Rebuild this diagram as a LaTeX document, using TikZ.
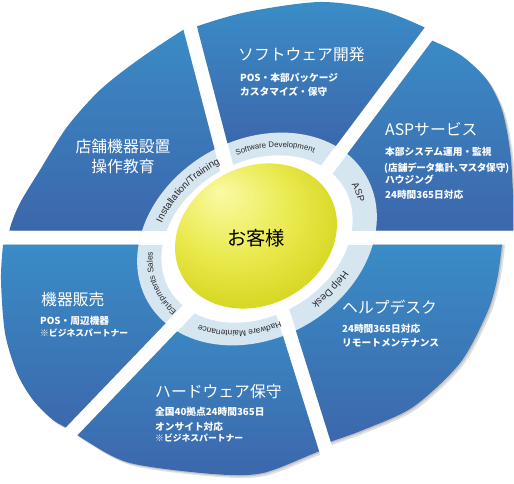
\documentclass[tikz,border=0pt]{standalone}
\usepackage{fontspec}
\newfontfamily\jpfont{Noto Sans CJK JP}
\newfontfamily\jppfont[RawFeature=+palt]{Noto Sans CJK JP}
\newfontfamily\latfont{Liberation Sans}
\usetikzlibrary{calc,decorations.text}
\definecolor{secT}{RGB}{58,141,199}
\definecolor{secB}{RGB}{60,102,171}
\definecolor{bandc}{RGB}{214,230,241}
\definecolor{ylA}{RGB}{250,250,165}
\definecolor{ylB}{RGB}{234,234,80}
\definecolor{ylC}{RGB}{203,203,8}
\definecolor{lbl}{RGB}{40,40,40}
\pgfdeclareradialshading{yelsh}{\pgfpoint{-10bp}{16bp}}{color(0bp)=(ylA); color(16bp)=(ylB); color(36bp)=(ylC); color(50bp)=(ylC)}
\newcommand\gapcoords[3]{%
  \coordinate (#1i) at #2; \coordinate (#1o) at #3;
  \coordinate (#1iL) at ($(#1i)!7bp!90:(#1o)$);
  \coordinate (#1oL) at ($(#1o)!7bp!-90:(#1i)$);
  \coordinate (#1iR) at ($(#1i)!7bp!-90:(#1o)$);
  \coordinate (#1oR) at ($(#1o)!7bp!90:(#1i)$);}
\newcommand\sectorfill[3]{%
  \begin{scope}[shift={(1.3,1.3)}]\clip #1; \clip #2; \fill[black,opacity=0.12] #3; \end{scope}
  \begin{scope}[shift={(2.8,2.8)}]\clip #1; \clip #2; \fill[black,opacity=0.12] #3; \end{scope}
  \begin{scope}\clip #1; \clip #2; \shade[top color=secT,bottom color=secB] #3; \end{scope}}
% size, text, from, to, a, b  (ellipse rotated 30 deg about band centre)
\newcommand\bandlabel[6]{%
  \path[decorate,decoration={text along path,text align=center,
    text={|\latfont\fontsize{#1bp}{#1bp}\selectfont\color{lbl}|#2}}]
    plot[domain=#3:#4,samples=90]
    ({257+#5*cos(\x)*cos(30)+#6*sin(\x)*sin(30)},{239-#5*cos(\x)*sin(30)+#6*sin(\x)*cos(30)});}
\begin{document}
\begin{tikzpicture}[x=1bp,y=-1bp,
  ttl/.style={text=white,font=\jpfont\fontsize{15.8bp}{19bp}\selectfont,inner sep=0pt},
  bdy/.style={text=white,font=\jpfont\bfseries\fontsize{9.7bp}{12bp}\selectfont,inner sep=0pt},
  bdyp/.style={text=white,font=\jppfont\bfseries\fontsize{9.7bp}{12bp}\selectfont,inner sep=0pt},
  sml/.style={text=white,font=\jpfont\bfseries\fontsize{8.8bp}{11bp}\selectfont,inner sep=0pt}]
\useasboundingbox (0,0) rectangle (514,484);
\fill[white] (0,0) rectangle (514,484);
% gap centre lines
\gapcoords{gl}{(200,237.5)}{(-40,237.5)}
\gapcoords{gr}{(312,237.5)}{(560,237.5)}
\gapcoords{ga}{($(198.5,60)!1.6!(222,150)$)}{($(222,150)!2.3!(198.5,60)$)}
\gapcoords{gb}{($(409,60)!1.8!(340,152)$)}{($(340,152)!2.3!(409,60)$)}
\gapcoords{gc}{($(323.5,442)!1.45!(284,316)$)}{($(284,316)!2.3!(323.5,442)$)}
\gapcoords{gd}{($(70,433)!1.45!(188,310)$)}{($(188,310)!2.3!(70,433)$)}
% sectors
\sectorfill{(gaiR)--(gaoR)--(320,-300)--(gboL)--(gbiL)--cycle}
  {plot[smooth] coordinates {(150,45) (195,27) (247,12) (320,2) (380,10) (430,30) (468,52)} -- (300,700) -- cycle}
  {(140,0) rectangle (470,150)}
\sectorfill{(gbiR)--(gboR)--(800,-100)--(groL)--(griL)--cycle}
  {plot[smooth] coordinates {(405,32) (433,41) (462,56) (487,80) (502,110) (510,150) (513,195) (513,230) (512,262)} -- (-100,450) -- cycle}
  {(300,30) rectangle (514,235)}
\sectorfill{(griR)--(groR)--(800,600)--(gcoL)--(gciL)--cycle}
  {plot[smooth] coordinates {(504,220) (502,245) (497,280) (487,313) (460,363) (413,407) (363,430) (330,442) (297,455)} -- (-100,-100) -- cycle}
  {(270,240) rectangle (514,450)}
\sectorfill{(gciR)--(gcoR)--(256,800)--(gdoL)--(gdiL)--cycle}
  {plot[smooth] coordinates {(352,442) (320,451) (263,473) (213,474) (130,463) (85,440) (55,418)} -- (256,-300) -- cycle}
  {(50,300) rectangle (360,480)}
\sectorfill{(gdiR)--(gdoR)--(-300,600)--(gloL)--(gliL)--cycle}
  {plot[smooth] coordinates {(6,222) (3,245) (1,280) (5,333) (17,373) (33,400) (53,420) (70,430) (98,452)} -- (600,0) -- cycle}
  {(0,240) rectangle (220,440)}
\sectorfill{(gliR)--(gloR)--(-300,-100)--(gaoL)--(gaiL)--cycle}
  {plot[smooth] coordinates {(5,256) (10,228) (20,203) (40,170) (67,127) (100,90) (138,60) (183,30) (218,10)} -- (500,500) -- cycle}
  {(0,20) rectangle (240,235)}
% label band
\fill[bandc,rotate around={30:(257,239)}] (257,239) ellipse [x radius=126,y radius=99];
\begin{scope}
  \clip[rotate around={30:(257,239)}] (257,239) ellipse [x radius=126,y radius=99];
  \foreach \g in {gl,gr,ga,gb,gc,gd}{\draw[white,line width=14bp] (\g i) -- (\g o);}
\end{scope}
\fill[white,rotate around={30:(257,239)}] (257,239) ellipse [x radius=101,y radius=77];
\shade[shading=yelsh,rotate around={28:(256,236)}] (256,236) ellipse [x radius=84,y radius=69];
% band labels
\bandlabel{7.8}{Software Development}{-95}{-11}{110}{85}
\bandlabel{9.5}{ASP}{-34}{46}{109}{84}
\bandlabel{10}{Help Desk}{28}{108}{109}{84}
\bandlabel{8.3}{Hadware Maintenance}{84}{169}{110}{85}
\bandlabel{8.3}{Equipments Sales}{146}{226}{110}{85}
\bandlabel{9.8}{Installation/Training}{-155}{-68}{109}{84}
% texts
\node[anchor=base,font=\jpfont\fontsize{19.3bp}{22bp}\selectfont,text=black,inner sep=0pt] (cust) at (256,245.8) {お客様};
\node[ttl,anchor=base west] (tsw) at (238,61) {ソフトウェア開発};
\node[bdy,anchor=base west] (bsw1) at (240,81.3) {POS・本部パッケージ};
\node[bdy,anchor=base west] (bsw2) at (240,95.3) {カスタマイズ・保守};
\node[ttl,anchor=base west] (tasp) at (385,136) {ASPサービス};
\node[bdy,anchor=base west] (basp1) at (385,155.8) {本部システム運用・監視};
\node[bdyp,anchor=base west] (basp2) at (384,171.3) {(店舗データ集計、マスタ保守)};
\node[bdy,anchor=base west] (basp3) at (385,183.8) {ハウジング};
\node[bdy,anchor=base west] (basp4) at (385,198.8) {24時間365日対応};
\node[ttl,anchor=base west] (thd) at (342,313) {ヘルプデスク};
\node[bdy,anchor=base west] (bhd1) at (342,332.8) {24時間365日対応};
\node[bdy,anchor=base west] (bhd2) at (342,346.8) {リモートメンテナンス};
\node[ttl,anchor=base west] (thw) at (155,397) {ハードウェア保守};
\node[bdy,anchor=base west] (bhw1) at (155,415.8) {全国40拠点24時間365日};
\node[bdy,anchor=base west] (bhw2) at (155,430.3) {オンサイト対応};
\node[sml,anchor=base west] (bhw3) at (155,441.9) {※ビジネスパートナー};
\node[ttl,anchor=base west] (teq) at (41,305) {機器販売};
\node[bdy,anchor=base west] (beq1) at (40,324.3) {POS・周辺機器};
\node[sml,anchor=base west] (beq2) at (40,336.9) {※ビジネスパートナー};
\node[ttl,anchor=base] (tin1) at (123,152.5) {店舗機器設置};
\node[ttl,anchor=base] (tin2) at (123,172.5) {操作教育};
\end{tikzpicture}
\end{document}
